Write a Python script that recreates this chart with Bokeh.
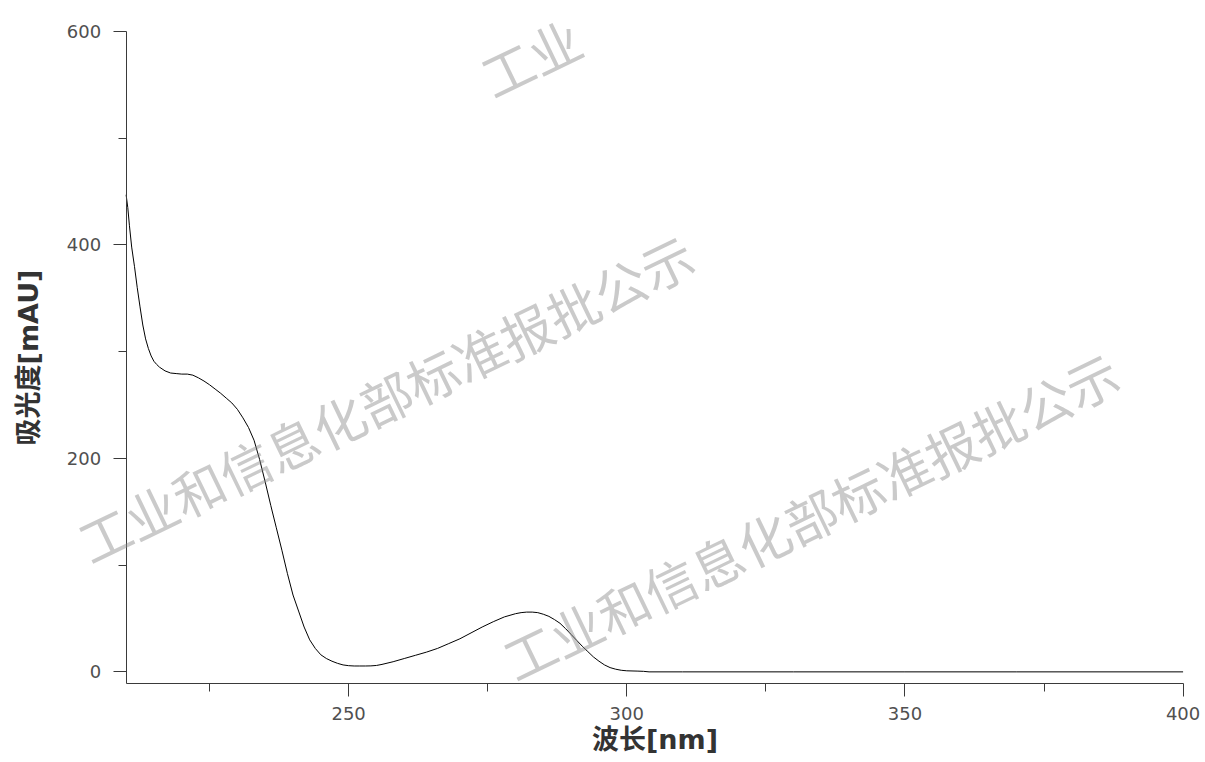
from bokeh.plotting import figure
from bokeh.models import Range1d, FixedTicker, Label
from bokeh.embed import file_html
from bokeh.resources import INLINE

# UV absorbance spectrum: wavelength (nm) and absorbance (mAU)
wavelength = [
    210.0, 210.3, 210.6, 211.0, 211.5, 212.0, 212.5, 213.0, 213.5, 214.0,
    214.5, 215.0, 215.5, 216.0, 217.0, 218.0, 219.0, 220.0, 221.0, 222.0,
    223.0, 224.0, 225.0, 226.0, 227.0, 228.0, 229.0, 230.0, 231.0, 232.0,
    233.0, 234.0, 235.0, 236.0, 237.0, 238.0, 239.0, 240.0, 241.0, 242.0,
    243.0, 244.0, 245.0, 246.0, 247.0, 248.0, 249.0, 250.0, 251.0, 252.0,
    253.0, 254.0, 255.0, 256.0, 258.0, 260.0, 262.0, 264.0, 266.0, 268.0,
    270.0, 272.0, 274.0, 276.0, 278.0, 280.0, 281.0, 282.0, 283.0, 284.0,
    285.0, 286.0, 287.0, 288.0, 289.0, 290.0, 291.0, 292.0, 293.0, 294.0,
    295.0, 296.0, 297.0, 298.0, 299.0, 300.0, 302.0, 303.0, 304.0, 310.0,
    330.0, 350.0, 370.0, 400.0,
]
absorbance = [
    447.0, 435.0, 418.0, 398.0, 380.0, 360.0, 342.0, 325.0, 312.0, 303.0,
    296.0, 291.0, 288.0, 285.5, 282.0, 280.0, 279.5, 279.0, 279.0, 278.0,
    275.5, 272.5, 269.0, 265.0, 261.0, 256.5, 252.0, 246.0, 238.0, 229.0,
    217.0, 199.0, 178.0, 156.0, 135.0, 114.0, 92.0, 72.0, 57.0, 42.0,
    30.0, 22.0, 16.0, 12.5, 10.0, 8.0, 6.5, 5.8, 5.5, 5.5,
    5.5, 5.6, 6.0, 7.0, 9.5, 12.5, 15.5, 18.5, 22.0, 26.5,
    31.0, 36.5, 42.0, 47.0, 51.5, 54.5, 55.5, 56.0, 56.0, 55.5,
    54.0, 52.0, 49.0, 45.5, 40.5, 35.0, 29.5, 24.0, 19.0, 14.0,
    10.0, 6.5, 4.0, 2.5, 1.5, 1.0, 0.7, 0.5, 0.0, 0.0,
    0.0, 0.0, 0.0, 0.0,
]

x_major = [250, 300, 350, 400]
x_minor = [225, 275, 325, 375]
y_major = [0, 200, 400, 600]
y_minor = [100, 300, 500]
x_bounds = (210, 400)
y_bounds = (-10.9, 600)

watermark_text = "工业和信息化部标准报批公示"

# the frame spans the whole canvas; the axes sit at fixed data positions
# so the stamp text can run over the margins as well
p = figure(
    width=1205, height=762,
    x_range=Range1d(187.42, 404.03), y_range=Range1d(-84.92, 629.05),
    output_backend="svg", toolbar_location=None, title=None,
    min_border=0,
)
p.outline_line_color = None
p.xgrid.visible = False
p.ygrid.visible = False
p.background_fill_color = "white"
p.border_fill_color = "white"

p.line(wavelength, absorbance, line_color="black", line_width=1)

# faint diagonal stamp text laid over the plot
stamps = [
    (256.6, 257.1, watermark_text),
    (333.0, 146.9, watermark_text),
    (282.7, 576.6, watermark_text[:2]),
]
for wx, wy, txt in stamps:
    p.add_layout(Label(
        x=wx, y=wy, text=txt, angle=0.45,
        text_align="center", text_baseline="middle",
        text_font="Noto Sans CJK SC", text_font_size="52px",
        text_color="#8a8a8a", text_alpha=0.45, level="overlay",
    ))

for ax in (p.xaxis[0], p.yaxis[0]):
    ax.axis_line_color = "#3a3a3a"
    ax.major_tick_line_color = "#3a3a3a"
    ax.minor_tick_line_color = "#3a3a3a"
    ax.major_tick_in = 0
    ax.minor_tick_in = 0
    ax.major_tick_out = 13
    ax.minor_tick_out = 8
    ax.major_label_text_font = "DejaVu Sans"
    ax.major_label_text_font_size = "18px"
    ax.major_label_text_color = "#505050"
    ax.axis_label_text_font = "DejaVu Sans, Noto Sans CJK SC"
    ax.axis_label_text_font_style = "bold"
    ax.axis_label_text_font_size = "27px"
    ax.axis_label_text_color = "#333333"

p.xaxis.fixed_location = y_bounds[0]
p.yaxis.fixed_location = x_bounds[0]
p.xaxis.bounds = x_bounds
p.yaxis.bounds = y_bounds
p.xaxis.ticker = FixedTicker(ticks=x_major, minor_ticks=x_minor)
p.yaxis.ticker = FixedTicker(ticks=y_major, minor_ticks=y_minor)
p.xaxis.axis_label = "波长[nm]"
p.yaxis.axis_label = "吸光度[mAU]"
p.xaxis.major_label_standoff = 10
p.yaxis.major_label_standoff = 12
p.xaxis.axis_label_standoff = 1
p.yaxis.axis_label_standoff = 20

open("out.html", "w").write(file_html(p, INLINE))
